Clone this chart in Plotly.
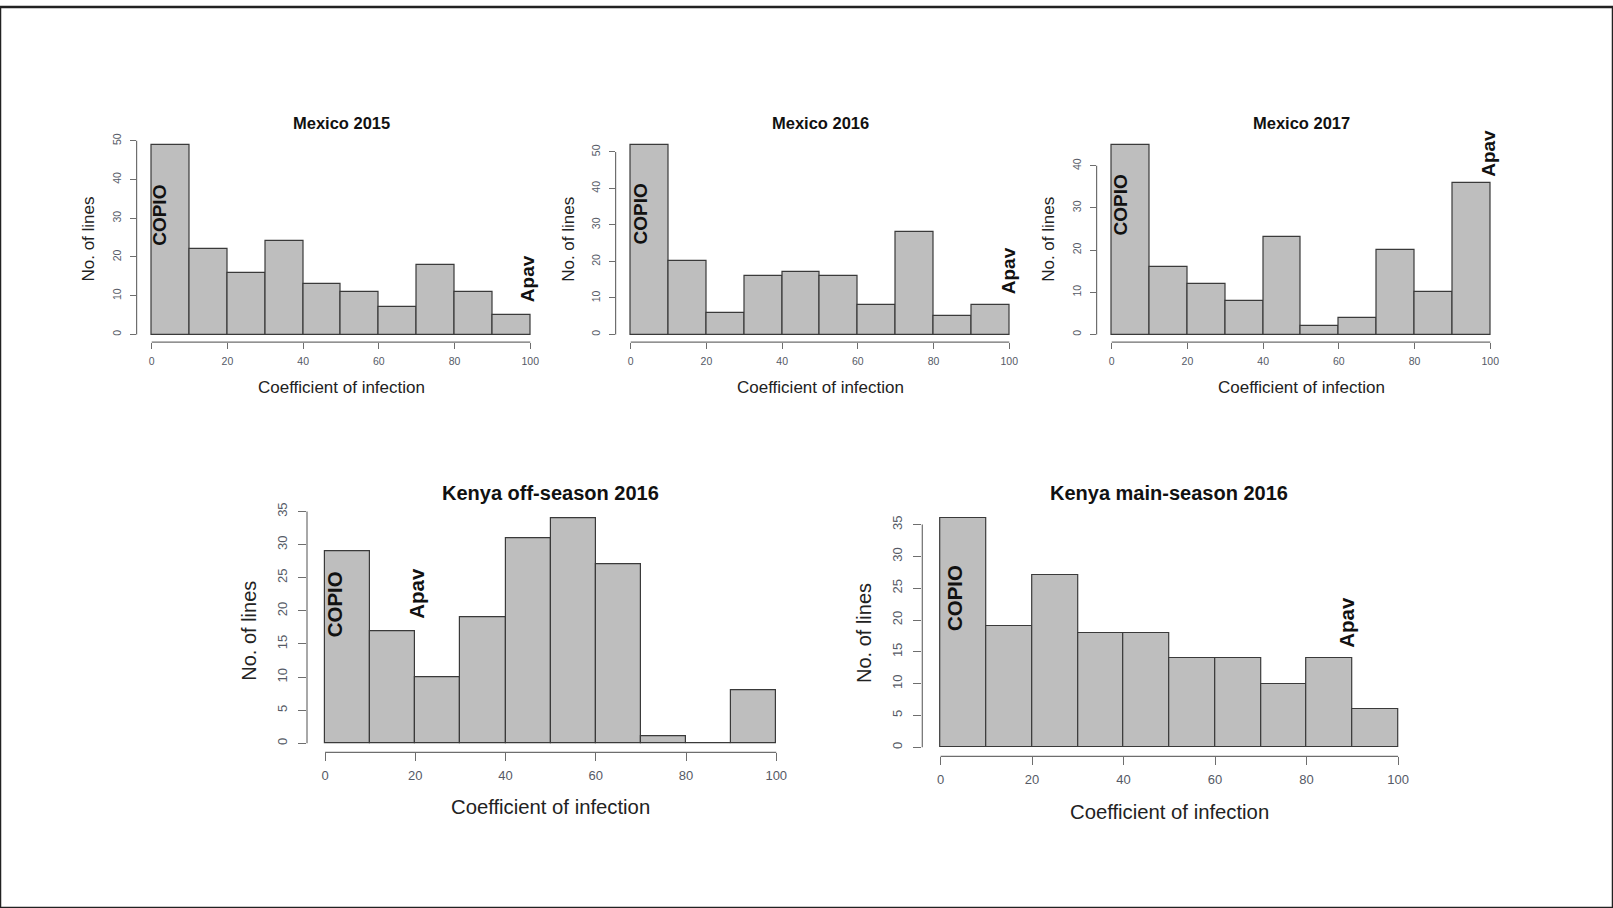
import plotly.graph_objects as go

W, H = 1613, 908

# ---------------- data ----------------
bin_centers = [5, 15, 25, 35, 45, 55, 65, 75, 85, 95]
x_ticks = [0, 20, 40, 60, 80, 100]

titles = ["Mexico 2015", "Mexico 2016", "Mexico 2017",
          "Kenya off-season 2016", "Kenya main-season 2016"]

mexico_2015 = [49, 22, 16, 24, 13, 11, 7, 18, 11, 5]
mexico_2016 = [52, 20, 6, 16, 17, 16, 8, 28, 5, 8]
mexico_2017 = [45, 16, 12, 8, 23, 2, 4, 20, 10, 36]
kenya_off_2016 = [29, 17, 10, 19, 31, 34, 27, 1, 0, 8]
kenya_main_2016 = [36, 19, 27, 18, 18, 14, 14, 10, 14, 6]

y_ticks_mx15 = [0, 10, 20, 30, 40, 50]
y_ticks_mx16 = [0, 10, 20, 30, 40, 50]
y_ticks_mx17 = [0, 10, 20, 30, 40]
y_ticks_ke_off = [0, 5, 10, 15, 20, 25, 30, 35]
y_ticks_ke_main = [0, 5, 10, 15, 20, 25, 30, 35]

# label positions (x, y) in data units for the rotated annotations
copio_pos = [(2, 30.7), (2.5, 32.9), (2.2, 30.6), (2.0, 21.0), (3.0, 23.5)]
apav_pos = [(99.1, 14.5), (100, 17.4), (99.5, 42.9), (20.4, 22.6), (88.8, 19.7)]

series = [mexico_2015, mexico_2016, mexico_2017, kenya_off_2016, kenya_main_2016]
yticks = [y_ticks_mx15, y_ticks_mx16, y_ticks_mx17, y_ticks_ke_off, y_ticks_ke_main]

# ---------------- layout (pixel boxes of plot regions) ----------------
boxes = [
    (136.6, 545.4, 131.0, 337.7),
    (615.6, 1024.4, 131.0, 337.7),
    (1096.6, 1505.4, 131.0, 337.7),
    (307.0, 794.3, 506.1, 751.1),
    (922.3, 1416.4, 506.0, 755.2),
]
small = [True, True, True, False, False]
title_y = [117.2, 117.2, 117.2, 489.5, 489.5]
xlab_y = [383.6, 383.6, 383.6, 806.2, 811.3]
ylab_x = [89.0, 568.3, 1048.3, 249.0, 863.3]

FONT = "Liberation Sans, Arial, Helvetica, sans-serif"
BAR_FILL = "#bebebe"
EDGE = "#3a3a3a"
AXIS = "#6e6e6e"
TICKFONT = "#555a66"

fig = go.Figure()
annotations = []
shapes = []

for i, (counts, yt, box, sm) in enumerate(zip(series, yticks, boxes, small)):
    n = i + 1
    xa = "x" if n == 1 else f"x{n}"
    ya = "y" if n == 1 else f"y{n}"
    xkey = "xaxis" if n == 1 else f"xaxis{n}"
    ykey = "yaxis" if n == 1 else f"yaxis{n}"
    x0, x1, y0, y1 = box
    ymax = max(counts)

    fig.add_trace(go.Bar(
        x=bin_centers, y=counts, width=10,
        marker=dict(color=BAR_FILL, line=dict(color=EDGE, width=1.2)),
        xaxis=xa, yaxis=ya, showlegend=False, hoverinfo="x+y",
    ))

    tick_size = 10.5 if sm else 13
    title_size = 16.5 if sm else 20
    xlab_size = 17 if sm else 20.3
    ylab_size = 17 if sm else 20
    note_size = 19 if sm else 20.5

    fig.layout[xkey] = dict(
        domain=[x0 / W, x1 / W], anchor=ya, range=[-4, 104],
        tickvals=x_ticks, ticks="outside", ticklen=6 if sm else 8,
        tickcolor=AXIS, tickwidth=1, showline=False, showgrid=False,
        zeroline=False, tickfont=dict(size=tick_size, color=TICKFONT, family=FONT),
        ticklabelstandoff=3, fixedrange=True,
    )
    fig.layout[ykey] = dict(
        domain=[1 - y1 / H, 1 - y0 / H], anchor=xa,
        range=[-0.04 * ymax, 1.04 * ymax],
        tickvals=yt, ticks="outside", ticklen=6 if sm else 8,
        tickcolor=AXIS, tickwidth=1, showline=False, showgrid=False,
        zeroline=False, tickangle=-90,
        tickfont=dict(size=tick_size, color=TICKFONT, family=FONT),
        ticklabelstandoff=4 if sm else 6, fixedrange=True,
    )

    # R-style axis lines spanning first to last tick
    shapes.append(dict(type="line", xref=xa, yref=f"{ya} domain",
                       x0=x_ticks[0], x1=x_ticks[-1], y0=0, y1=0,
                       line=dict(color=AXIS, width=1.2)))
    shapes.append(dict(type="line", xref=f"{xa} domain", yref=ya,
                       x0=0, x1=0, y0=yt[0], y1=yt[-1],
                       line=dict(color=AXIS, width=1.2)))

    # title
    annotations.append(dict(text=f"<b>{titles[i]}</b>", xref=f"{xa} domain",
                            yref="paper", x=0.5, y=1 - title_y[i] / H,
                            xanchor="center", yanchor="middle", showarrow=False,
                            font=dict(size=title_size, color="#111", family=FONT)))
    # x label
    annotations.append(dict(text="Coefficient of infection", xref=f"{xa} domain",
                            yref="paper", x=0.5, y=1 - xlab_y[i] / H,
                            xanchor="center", yanchor="middle", showarrow=False,
                            font=dict(size=xlab_size, color="#222", family=FONT)))
    # y label
    annotations.append(dict(text="No. of lines", xref="paper",
                            yref=f"{ya} domain", x=ylab_x[i] / W, y=0.5,
                            xanchor="center", yanchor="middle",
                            textangle=-90, showarrow=False,
                            font=dict(size=ylab_size, color="#222", family=FONT)))
    # COPIO / Apav markers
    for txt, (px, py) in (("COPIO", copio_pos[i]), ("Apav", apav_pos[i])):
        annotations.append(dict(text=f"<b>{txt}</b>", xref=xa, yref=ya,
                                x=px, y=py, xanchor="center", yanchor="middle",
                                textangle=-90, showarrow=False,
                                font=dict(size=note_size, color="#111", family=FONT)))

# outer frame
shapes.append(dict(type="rect", xref="paper", yref="paper", x0=0, x1=1, y0=0, y1=1,
                   line=dict(color="#222", width=2.5), layer="above"))

fig.update_layout(
    width=W, height=H, margin=dict(l=0, r=0, t=0, b=0),
    paper_bgcolor="white", plot_bgcolor="white",
    bargap=0, annotations=annotations, shapes=shapes,
    font=dict(family=FONT),
)

fig.write_html("out.html")
